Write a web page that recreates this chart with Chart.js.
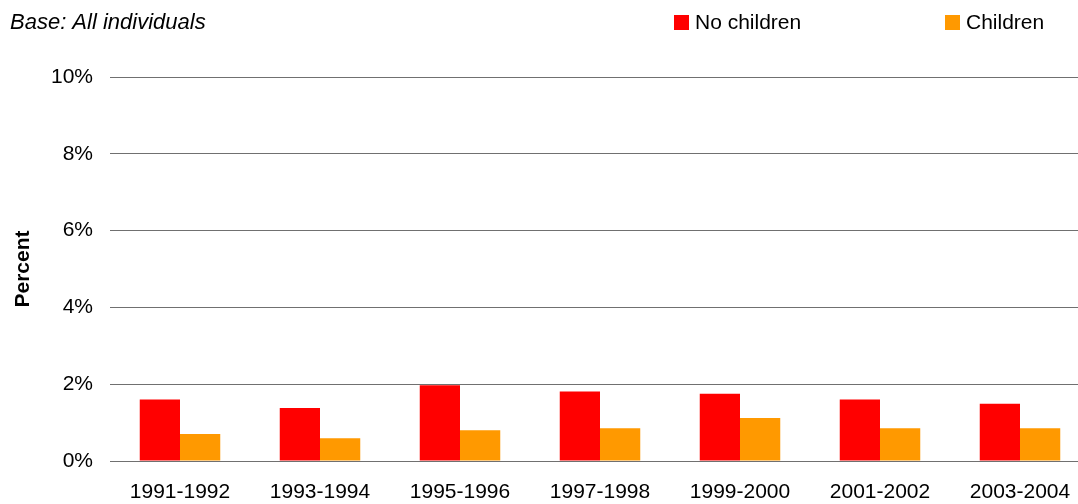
<!DOCTYPE html>
<html>
<head>
<meta charset="utf-8">
<script src="https://cdn.jsdelivr.net/npm/chart.js@4.4.1/dist/chart.umd.min.js"></script>
<style>
  html, body { margin: 0; padding: 0; background: #fff; overflow: hidden; }
  #wrap { width: 1078px; height: 504px; overflow: hidden; }
  #box { width: 1090px; height: 504px; position: relative; }
</style>
</head>
<body>
<div id="wrap"><div id="box"><canvas id="chart"></canvas></div></div>
<script>
const categories = ['1991-1992', '1993-1994', '1995-1996', '1997-1998', '1999-2000', '2001-2002', '2003-2004'];
const noChildren = [1.6, 1.38, 1.97, 1.81, 1.75, 1.6, 1.49];
const children = [0.7, 0.59, 0.8, 0.85, 1.12, 0.85, 0.85];
const seriesNames = ['No children', 'Children'];
const seriesColors = ['#ff0000', '#ff9900'];
const baseNote = 'Base: All individuals';

const FONT = "'Liberation Sans', Arial, sans-serif";

// title note and legend at the top
const topText = {
  id: 'topText',
  afterDraw(chart) {
    const ctx = chart.ctx;
    ctx.save();
    ctx.fillStyle = '#000';
    ctx.textBaseline = 'alphabetic';
    ctx.font = 'italic 22px ' + FONT;
    ctx.fillText(baseNote, 10, 29);
    ctx.font = '21px ' + FONT;
    const xs = [674, 945];
    chart.data.datasets.forEach((ds, i) => {
      ctx.fillStyle = ds.backgroundColor;
      ctx.fillRect(xs[i], 15, 15, 15);
      ctx.fillStyle = '#000';
      ctx.fillText(ds.label, xs[i] + 21, 29);
    });
    ctx.restore();
  }
};

new Chart(document.getElementById('chart').getContext('2d'), {
  type: 'bar',
  data: {
    labels: categories,
    datasets: [
      { label: seriesNames[0], data: noChildren, backgroundColor: seriesColors[0] },
      { label: seriesNames[1], data: children, backgroundColor: seriesColors[1] }
    ]
  },
  options: {
    responsive: true,
    maintainAspectRatio: false,
    animation: false,
    layout: { padding: { top: 77, left: 0, right: 0, bottom: 0 } },
    datasets: { bar: { categoryPercentage: 0.575, barPercentage: 1.0 } },
    plugins: { legend: { display: false }, tooltip: { enabled: false } },
    scales: {
      x: {
        afterFit(scale) { scale.height = 43; },
        grid: { display: false, drawTicks: false },
        border: { display: false },
        ticks: { color: '#000', font: { family: FONT, size: 21 }, padding: 19, maxRotation: 0 }
      },
      y: {
        min: 0, max: 10,
        afterFit(scale) { scale.width = 110; },
        grid: { color: '#707070', lineWidth: 1, drawTicks: false },
        border: { display: false },
        ticks: {
          stepSize: 2,
          color: '#000',
          font: { family: FONT, size: 21 },
          padding: 17,
          callback: v => v + '%'
        },
        title: {
          display: true,
          text: 'Percent',
          color: '#000',
          font: { family: FONT, size: 21, weight: 'bold' },
          padding: { top: 11, bottom: 0 }
        }
      }
    }
  },
  plugins: [topText]
});
</script>
</body>
</html>
